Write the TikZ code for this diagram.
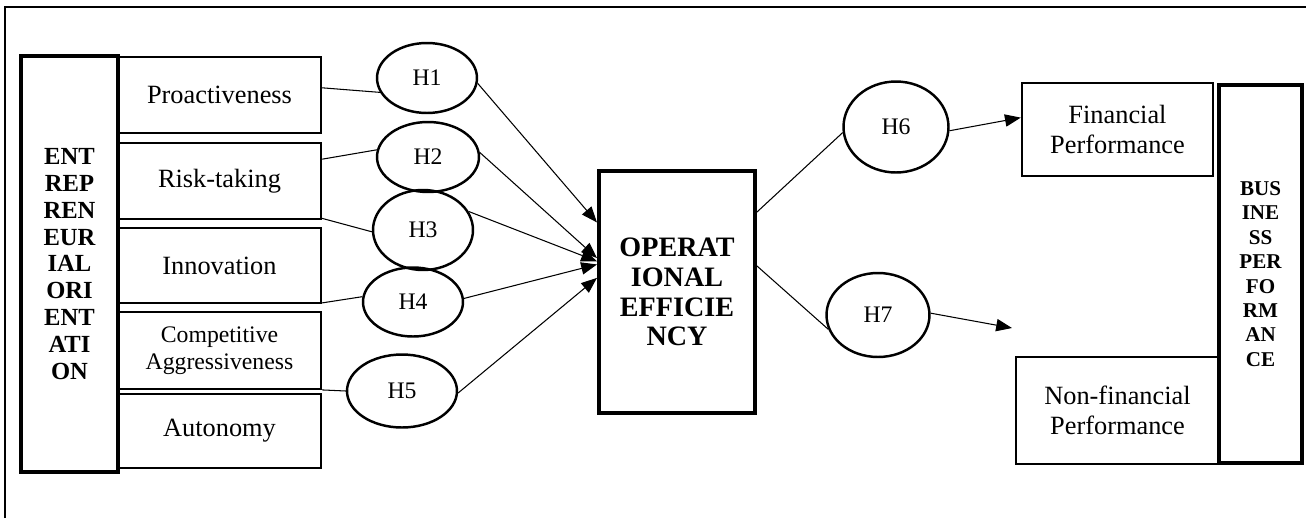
\documentclass[tikz,border=0pt]{standalone}
\usepackage{fontspec}
\setmainfont{Liberation Serif}
\usepackage{tikz}
\usetikzlibrary{shapes.geometric, arrows.meta, positioning}
\tikzstyle{dimbox} = [rectangle, draw=black, line width=1.4pt, align=center, inner sep=0pt, font=\fontsize{15}{17.3}\selectfont]
\tikzstyle{mainbox} = [rectangle, draw=black, line width=2.3pt, align=center, inner sep=0pt, font=\bfseries\fontsize{14}{15.3}\selectfont]
\tikzstyle{hyp} = [ellipse, draw=black, line width=1.4pt, inner sep=0pt, font=\fontsize{13.5}{15}\selectfont]
\tikzstyle{link} = [line width=0.6pt]
\tikzstyle{arrow} = [line width=0.6pt, -{Triangle[length=9pt,width=7pt]}]

\begin{document}
\begin{tikzpicture}[x=0.02cm, y=-0.02cm]
\useasboundingbox (0,0) rectangle (1306,518);
\draw [line width=1pt] (5,518) |- (1306,7);

% entrepreneurial orientation
\node (eo) [mainbox, minimum width=1.94cm, minimum height=8.32cm] at (69.5,264) {ENT\\REP\\REN\\EUR\\IAL\\ORI\\ENT\\ATI\\ON};
\node (pro) [dimbox, minimum width=4.06cm, minimum height=1.52cm] at (219.5,95) {Proactiveness};
\node (risk) [dimbox, minimum width=4.06cm, minimum height=1.52cm] at (219.5,181) {Risk-taking};
\node (inno) [dimbox, minimum width=4.06cm, minimum height=1.5cm] at (219.5,265.5) {Innovation};
\node (comp) [dimbox, minimum width=4.06cm, minimum height=1.54cm, font=\fontsize{13.5}{15.3}\selectfont] at (219.5,350.5) {Competitive\\Aggressiveness};
\node (auto) [dimbox, minimum width=4.06cm, minimum height=1.48cm] at (219.5,431) {Autonomy};

% hypotheses
\node (h1) [hyp, minimum width=2cm, minimum height=1.4cm] at (427,78) {H1};
\node (h2) [hyp, minimum width=2.04cm, minimum height=1.4cm] at (428,157) {H2};
\node (h3) [hyp, minimum width=2cm, minimum height=1.6cm] at (423,230) {H3};
\node (h4) [hyp, minimum width=2cm, minimum height=1.38cm] at (413,302) {H4};
\node (h5) [hyp, minimum width=2.2cm, minimum height=1.46cm] at (402,391) {H5};
\node (h6) [hyp, minimum width=2.1cm, minimum height=1.82cm] at (896,127) {H6};
\node (h7) [hyp, minimum width=2.06cm, minimum height=1.68cm] at (878,315) {H7};

% operational efficiency
\node (oe) [mainbox, minimum width=3.12cm, minimum height=4.84cm, font=\bfseries\fontsize{16}{17}\selectfont] at (677,292) {OPERAT\\IONAL\\EFFICIE\\NCY};

% business performance
\node (fin) [dimbox, minimum width=3.82cm, minimum height=1.86cm] at (1117.5,129.5) {Financial\\Performance};
\node (nonfin) [dimbox, minimum width=4.06cm, minimum height=2.14cm] at (1117.5,410.5) {Non-financial\\Performance};
\node (bp) [mainbox, minimum width=1.66cm, minimum height=7.56cm, font=\bfseries\fontsize{12}{13.9}\selectfont] at (1260.5,274) {BUS\\INE\\SS\\PER\\FO\\RM\\AN\\CE};
\coordinate (nfin) at (1012,328);

\draw [link] (pro.4) -- (h1.197);
\draw [link] (risk.12) -- (h2.172);
\draw [link] (risk.-20) -- (h3.182);
\draw [link] (inno.-20) -- (h4.174);
\draw [link] (comp.-21) -- (h5.180);

\draw [arrow] (h1.-6) -- (oe.139);
\draw [arrow] (h2.5) -- (oe.157);
\draw [arrow] (h3.22) -- (oe.159);
\draw [arrow] (h4.4) -- (oe.161);
\draw [arrow] (h5.-2) -- (oe.170);

\draw [link] (oe.45) -- (h6.186);
\draw [link] (oe.18) -- (h7.196);
\draw [arrow] (h6.-4) -- (fin.173);
\draw [arrow] (h7.2) -- (nfin);
\end{tikzpicture}
\end{document}
